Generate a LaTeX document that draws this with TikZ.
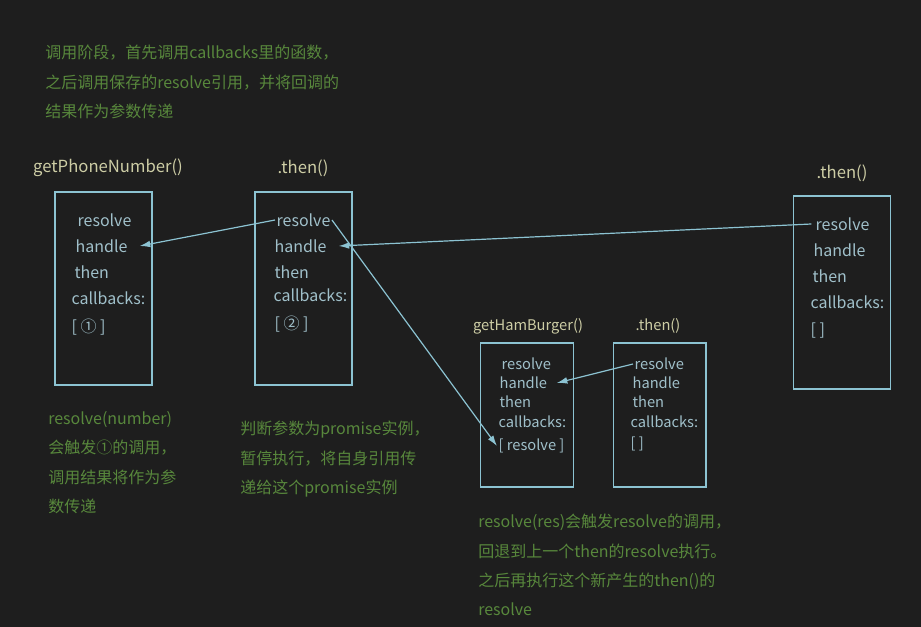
\documentclass[tikz,border=0pt]{standalone}
\usepackage{fontspec}
\setmainfont{Noto Sans CJK SC}
\usepackage{xcolor}
\usetikzlibrary{arrows.meta,positioning}

\definecolor{bgdark}{RGB}{30,30,30}
\definecolor{noteg}{RGB}{88,136,60}
\definecolor{titley}{RGB}{205,205,165}
\definecolor{boxline}{RGB}{140,195,210}
\definecolor{boxtext}{RGB}{160,192,202}

\begin{document}
\begin{tikzpicture}[
    x=0.75pt, y=-0.75pt,
    note/.style={text=noteg, align=left, anchor=north west, inner sep=0pt,
                 font=\fontsize{12}{22}\selectfont},
    title/.style={text=titley, font=\fontsize{12.5}{14}\selectfont},
    stitle/.style={text=titley, font=\fontsize{11}{13}\selectfont},
    bigbox/.style={draw=boxline, line width=1pt, minimum width=72.75pt, minimum height=144.75pt},
    smallbox/.style={draw=boxline, line width=1pt, minimum width=69.5pt, minimum height=108pt},
    field/.style={text=boxtext, anchor=west, inner sep=1pt, font=\fontsize{12}{14}\selectfont},
    sfield/.style={field, font=\fontsize{11}{13}\selectfont},
    arrow/.style={draw=boxline, line width=0.9pt, -{Latex[length=8pt, width=5pt]}}
]
\fill[bgdark] (0,0) rectangle (921,627);
\useasboundingbox (0,0) rectangle (921,627);

% explanation on top
\node[note] (intro) at (45,45) {调用阶段，首先调用callbacks里的函数，\\之后调用保存的resolve引用，并将回调的\\结果作为参数传递};

% getPhoneNumber()
\node[title] (pntitle) at (108,168) {getPhoneNumber()};
\node[bigbox] (pnbox) at (103.5,288.5) {};
\node[field] (pnres) at (76,220) {resolve};
\node[field] (pnhdl) at (74,246) {handle};
\node[field] (pnthen) at (73,272) {then};
\node[field] (pncb) at (70,298) {callbacks:};
\node[field] (pnlist) at (70,327) {[ ① ]};

% first .then()
\node[title] (t1title) at (303,168) {.then()};
\node[bigbox] (t1box) at (303.5,288.5) {};
\node[field] (t1res) at (275,220) {resolve};
\node[field] (t1hdl) at (273,246) {handle};
\node[field] (t1then) at (273,272) {then};
\node[field] (t1cb) at (272,295) {callbacks:};
\node[field] (t1list) at (273,324) {[ ② ]};

% second .then()
\node[title] (t2title) at (842,173) {.then()};
\node[bigbox] (t2box) at (842,292.5) {};
\node[field] (t2res) at (814,224) {resolve};
\node[field] (t2hdl) at (812,250) {handle};
\node[field] (t2then) at (811,276) {then};
\node[field] (t2cb) at (809,302) {callbacks:};
\node[field] (t2list) at (809,331) {[ ]};

% getHamBurger()
\node[stitle] (hbtitle) at (528,326) {getHamBurger()};
\node[smallbox] (hbbox) at (527,415) {};
\node[sfield] (hbres) at (500,364) {resolve};
\node[sfield] (hbhdl) at (498,383) {handle};
\node[sfield] (hbthen) at (498,402) {then};
\node[sfield] (hbcb) at (497,422) {callbacks:};
\node[sfield] (hblist) at (497,446) {[ resolve ]};

% .then() of getHamBurger
\node[stitle] (h1title) at (658,326) {.then()};
\node[smallbox] (h1box) at (659.5,415) {};
\node[sfield] (h1res) at (633,364) {resolve};
\node[sfield] (h1hdl) at (631,383) {handle};
\node[sfield] (h1then) at (631,402) {then};
\node[sfield] (h1cb) at (629,422) {callbacks:};
\node[sfield] (h1list) at (629,444) {[ ]};

% notes below
\node[note] (pnnote) at (48,411) {resolve(number)\\会触发①的调用，\\调用结果将作为参\\数传递};
\node[note] (t1note) at (240,421) {判断参数为promise实例，\\暂停执行，将自身引用传\\递给这个promise实例};
\node[note] (hbnote) at (478,514) {resolve(res)会触发resolve的调用，\\回退到上一个then的resolve执行。\\之后再执行这个新产生的then()的\\resolve};

\draw[arrow] (t1res.west) -- ([xshift=8pt]pnhdl.east);
\draw[arrow] ([xshift=-2pt]t2res.west) -- ([xshift=8pt]t1hdl.east);
\draw[arrow] (t1res.east) -- (hblist.west);
\draw[arrow] (h1res.west) -- ([xshift=6pt]hbhdl.east);
\end{tikzpicture}
\end{document}
